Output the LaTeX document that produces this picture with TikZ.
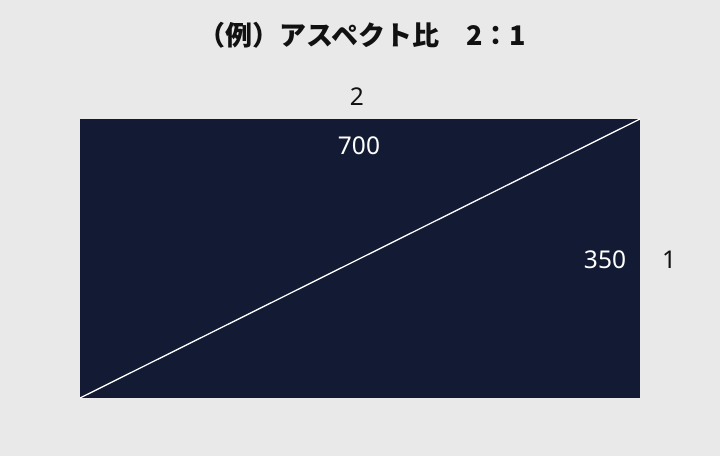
\documentclass[tikz,border=0pt]{standalone}
\usepackage{fontspec}
\setmainfont{Noto Sans}
\newfontfamily\cjk{Noto Sans CJK JP}
\definecolor{bg}{HTML}{E9E9E9}
\definecolor{navy}{HTML}{131A33}
\definecolor{ink}{HTML}{111111}
\begin{document}
\begin{tikzpicture}[x=1pt,y=-1pt,
  lbl/.style={font=\fontsize{24.5}{28}\selectfont, inner sep=0pt, anchor=center}]
\fill[bg] (0,0) rectangle (720,456);
\useasboundingbox (0,0) rectangle (720,456);
\node[inner sep=0pt, text=ink, font=\cjk\bfseries\fontsize{27}{31}\selectfont] (title) at (362,35) {（例）アスペクト比　2：1};
\fill[navy] (80,119) rectangle (640,398);
\coordinate (bl) at (80,398);
\coordinate (tr) at (640,119);
\draw[white, line width=1.3pt] (bl) -- (tr);
\node[lbl, text=ink] (w) at (357,97) {2};
\node[lbl, text=white] (wv) at (359,146) {700};
\node[lbl, text=white] (hv) at (605,260) {350};
\node[lbl, text=ink] (h) at (669,260) {1};
\end{tikzpicture}
\end{document}
